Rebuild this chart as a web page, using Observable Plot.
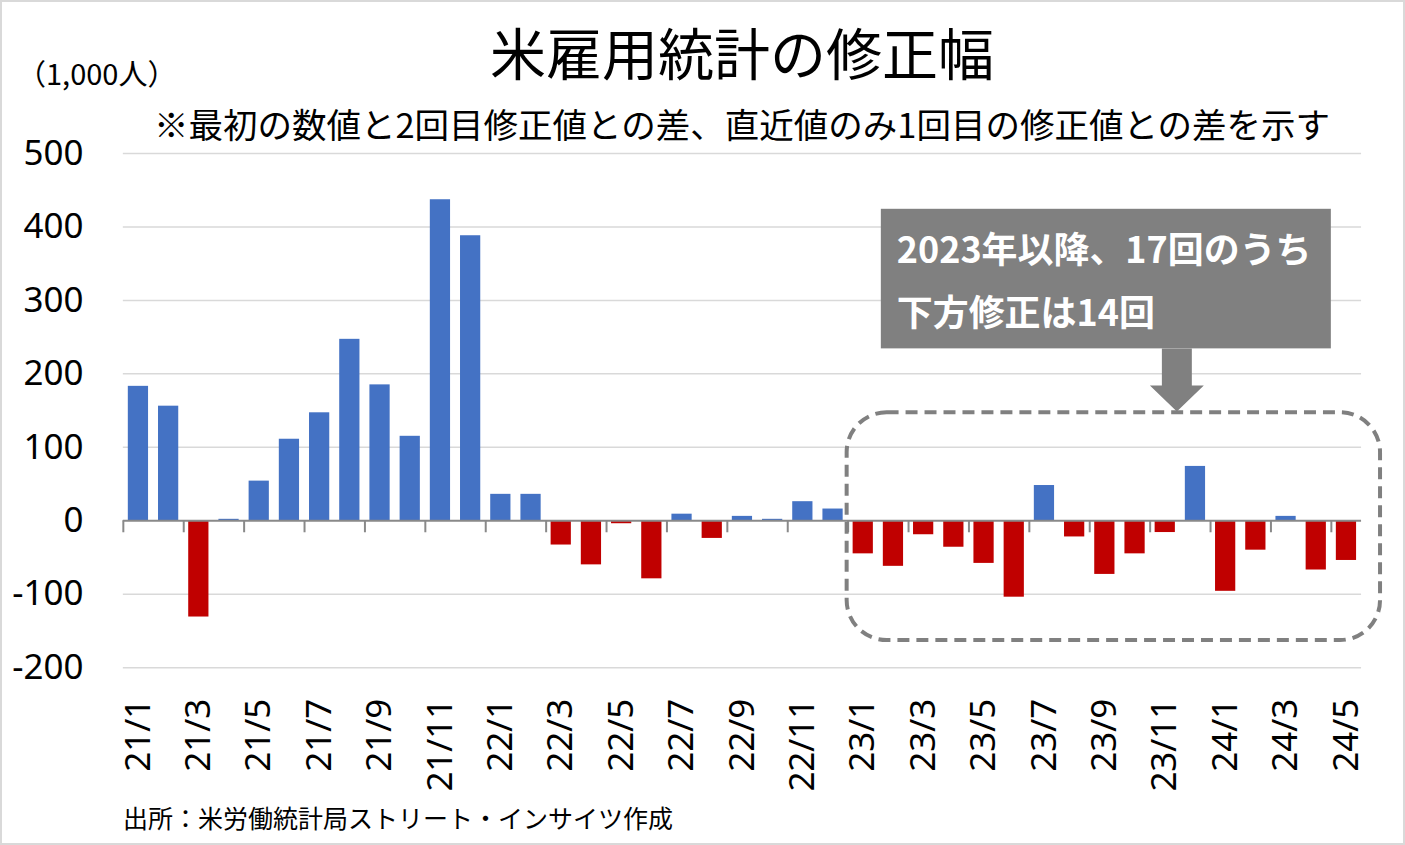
<!DOCTYPE html>
<html><head><meta charset="utf-8">
<script src="https://cdn.jsdelivr.net/npm/d3@7"></script>
<script src="https://cdn.jsdelivr.net/npm/@observablehq/plot@0.6"></script>
<style>
body{margin:0;background:#fff;}
#wrap{position:relative;width:1405px;height:845px;box-sizing:border-box;border:2px solid #d9d9d9;font-family:"Noto Sans CJK JP",sans-serif;color:#000;overflow:hidden;background:#fff}
.t{position:absolute;white-space:nowrap;line-height:1}
#chart{position:absolute;left:-2px;top:121px;}
</style></head><body>
<div id="wrap">
  <div class="t" style="left:740px;transform:translateX(-50%);top:21px;font-size:56px">米雇用統計の修正幅</div>
  <div class="t" style="left:15px;top:56px;font-size:29px">（1,000人）</div>
  <div class="t" style="left:740px;transform:translateX(-50%);top:104px;font-size:34.5px">※最初の数値と2回目修正値との差、直近値のみ1回目の修正値との差を示す</div>
  <div id="chart"></div>
  <div class="t" style="left:121px;top:803px;font-size:25px">出所：米労働統計局ストリート・インサイツ作成</div>
</div>
<script>
// ---- data ----
const months = [
  "21/1","21/2","21/3","21/4","21/5","21/6","21/7","21/8","21/9","21/10","21/11","21/12",
  "22/1","22/2","22/3","22/4","22/5","22/6","22/7","22/8","22/9","22/10","22/11","22/12",
  "23/1","23/2","23/3","23/4","23/5","23/6","23/7","23/8","23/9","23/10","23/11","23/12",
  "24/1","24/2","24/3","24/4","24/5"
];
const revisions = [
  183,156,-131,2,54,111,147,247,185,115,437,388,
  36,36,-33,-60,-4,-79,9,-24,6,2,26,16,
  -45,-62,-19,-36,-58,-104,48,-22,-73,-45,-16,74,
  -96,-40,6,-67,-54
];
const yTicks = [-200,-100,0,100,200,300,400,500];
const labelMonths = months.filter((m,i) => i % 2 === 0);
const noteLines = ["2023年以降、17回のうち","下方修正は14回"];

const data = months.map((m,i) => ({month:m, value:revisions[i]}));

const W = 1405, H = 677, ML = 123, MR = 42, MT = 30, MB = 132;
const pIn = 0.33, pOut = 0.165;
const step = (W - ML - MR) / (months.length - pIn + 2*pOut);

const chart = Plot.plot({
  width: W, height: H,
  marginLeft: ML, marginRight: MR, marginTop: MT, marginBottom: MB,
  style: {fontFamily: "'Noto Sans', sans-serif", color: "#000", background: "transparent"},
  x: {type: "band", domain: months, paddingInner: pIn, paddingOuter: pOut, round: false, axis: null},
  y: {domain: [-200, 500], axis: null},
  color: {domain: ["up","down"], range: ["#4472C4","#C00000"]},
  marks: [
    Plot.ruleY(yTicks.filter(v => v !== 0), {stroke: "#d9d9d9", strokeWidth: 1.5}),
    Plot.barY(data, {x: "month", y: "value", fill: d => d.value >= 0 ? "up" : "down"}),
    Plot.ruleY([0], {stroke: "#898989", strokeWidth: 2}),
    Plot.ruleX(labelMonths, {x: d => d, y1: 0, y2: 0, insetBottom: -12, dx: -step/2, stroke: "#898989", strokeWidth: 2}),
    Plot.axisY(yTicks, {tickSize: 0, tickPadding: 40, fontSize: 35, tickFormat: d => String(d), label: null}),
    Plot.axisX(labelMonths, {tickSize: 0, tickPadding: 31, tickRotate: -90, fontSize: 35, anchor: "bottom", label: null})
  ]
});
document.getElementById("chart").appendChild(chart);

// ---- annotation using the chart's scales ----
const xs = chart.scale("x"), ys = chart.scale("y");
const bw = xs.bandwidth, st = xs.step;
const gap = (st - bw) / 2;
const svg = d3.select(chart);
const g = svg.append("g");

const dx0 = xs.apply("23/1") - gap - 1;
const dx1 = xs.apply("24/5") + bw + 24;
const dy0 = ys.apply(147), dy1 = ys.apply(-163);
g.append("rect").attr("x", dx0).attr("y", dy0).attr("width", dx1 - dx0).attr("height", dy1 - dy0)
  .attr("rx", 40).attr("ry", 40).attr("fill", "none").attr("stroke", "#808080")
  .attr("stroke-width", 4).attr("stroke-dasharray", "12 7");

const bx0 = xs.apply("23/2") - 2, bx1 = xs.apply("24/5") - 5;
const by0 = ys.apply(424), by1 = ys.apply(234);
g.append("rect").attr("x", bx0).attr("y", by0).attr("width", bx1 - bx0).attr("height", by1 - by0).attr("fill", "#808080");

const ax = xs.apply("23/12") - gap - 3;
const tip = ys.apply(148);
const headTop = tip - 26;
g.append("polygon").attr("fill", "#808080").attr("points", [
  [ax - 15, by1], [ax + 15, by1], [ax + 15, headTop], [ax + 27, headTop],
  [ax, tip], [ax - 27, headTop], [ax - 15, headTop]
].map(p => p.join(",")).join(" "));

noteLines.forEach((t, i) => {
  g.append("text").attr("x", bx0 + 16).attr("y", by0 + 54 + i * 63)
    .attr("text-anchor", "start")
    .attr("fill", "#fff").attr("font-family", "'Noto Sans CJK JP', sans-serif")
    .attr("font-weight", "bold").attr("font-size", 36).text(t);
});
</script>
</body></html>
